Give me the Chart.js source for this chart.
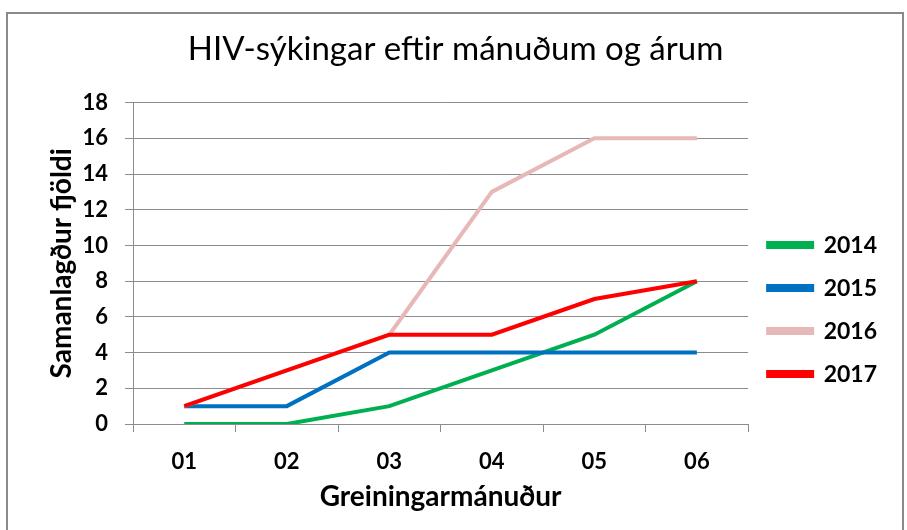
<!DOCTYPE html>
<html>
<head>
<meta charset="utf-8">
<script src="https://cdn.jsdelivr.net/npm/chart.js@4"></script>
<style>
  html, body { margin: 0; padding: 0; background: #fff; }
  #wrap { width: 907px; height: 530px; }
</style>
</head>
<body>
<div id="wrap"><canvas id="hivChart" width="907" height="530"></canvas></div>
<script>
document.addEventListener('DOMContentLoaded', function () {
  const ctx = document.getElementById('hivChart').getContext('2d');

  // Greiningarmánuður
  const months = ['01', '02', '03', '04', '05', '06'];

  // Samanlagður fjöldi eftir árum
  const y2014 = [0, 0, 1, 3, 5, 8];
  const y2015 = [1, 1, 4, 4, 4, 4];
  const y2016 = [1, 3, 5, 13, 16, 16];
  const y2017 = [1, 3, 5, 5, 7, 8];

  const yTicksMax = 18;
  const yStep = 2;

  const font = 'Lato, "Open Sans", sans-serif';
  const gridGray = '#8c8c8c';

  function series(label, values, color, order) {
    return {
      label: label,
      data: values,
      borderColor: color,
      backgroundColor: color,
      borderWidth: 4,
      pointRadius: 0,
      tension: 0,
      order: order
    };
  }

  // frame round the whole chart
  const framePlugin = {
    id: 'frame',
    beforeDraw(chart) {
      const c = chart.ctx;
      c.save();
      c.fillStyle = '#fff';
      c.fillRect(0, 0, chart.width, chart.height);
      c.strokeStyle = '#8a8a8a';
      c.lineWidth = 2;
      c.strokeRect(7, 13, 896, 530);
      c.restore();
    }
  };

  new Chart(ctx, {
    type: 'line',
    data: {
      labels: months,
      datasets: [
        series('2014', y2014, '#00B050', 4),
        series('2015', y2015, '#0070C0', 3),
        series('2016', y2016, '#E6B9B8', 2),
        series('2017', y2017, '#FF0000', 1)
      ]
    },
    options: {
      responsive: false,
      animation: false,
      layout: { padding: { top: 14, left: 24, right: 20, bottom: 0 } },
      scales: {
        x: {
          offset: true,
          afterFit: (scale) => { scale.height = 106; },
          grid: {
            offset: true,
            drawOnChartArea: false,
            drawTicks: true,
            tickLength: 8,
            color: gridGray
          },
          border: { color: gridGray },
          ticks: {
            color: '#000',
            padding: 17,
            font: { family: font, size: 22, weight: 'bold' }
          },
          title: {
            display: true,
            text: 'Greiningarmánuður',
            color: '#000',
            padding: { bottom: 16 },
            font: { family: font, size: 28, weight: 'bold' }
          }
        },
        y: {
          min: 0,
          max: yTicksMax,
          afterFit: (scale) => { scale.width = 109; },
          grid: { color: gridGray, tickLength: 8 },
          border: { color: gridGray },
          ticks: {
            stepSize: yStep,
            color: '#000',
            padding: 17,
            font: { family: font, size: 22, weight: 'bold' }
          },
          title: {
            display: true,
            text: 'Samanlagður fjöldi',
            color: '#000',
            padding: { top: 21, bottom: 0 },
            font: { family: font, size: 28, weight: 'bold' }
          }
        }
      },
      plugins: {
        title: {
          display: true,
          text: 'HIV-sýkingar eftir mánuðum og árum',
          color: '#000',
          padding: { top: 16, bottom: 33 },
          font: { family: font, size: 33, weight: 'normal' }
        },
        legend: {
          position: 'right',
          title: { display: true, text: ' ', padding: 37, font: { size: 1 } },
          labels: {
            boxWidth: 44,
            boxHeight: 4,
            padding: 20,
            color: '#000',
            font: { family: font, size: 23, weight: 'bold' },
            sort: (a, b) => a.datasetIndex - b.datasetIndex
          }
        },
        tooltip: { enabled: false }
      }
    },
    plugins: [framePlugin]
  });
});
</script>
</body>
</html>
